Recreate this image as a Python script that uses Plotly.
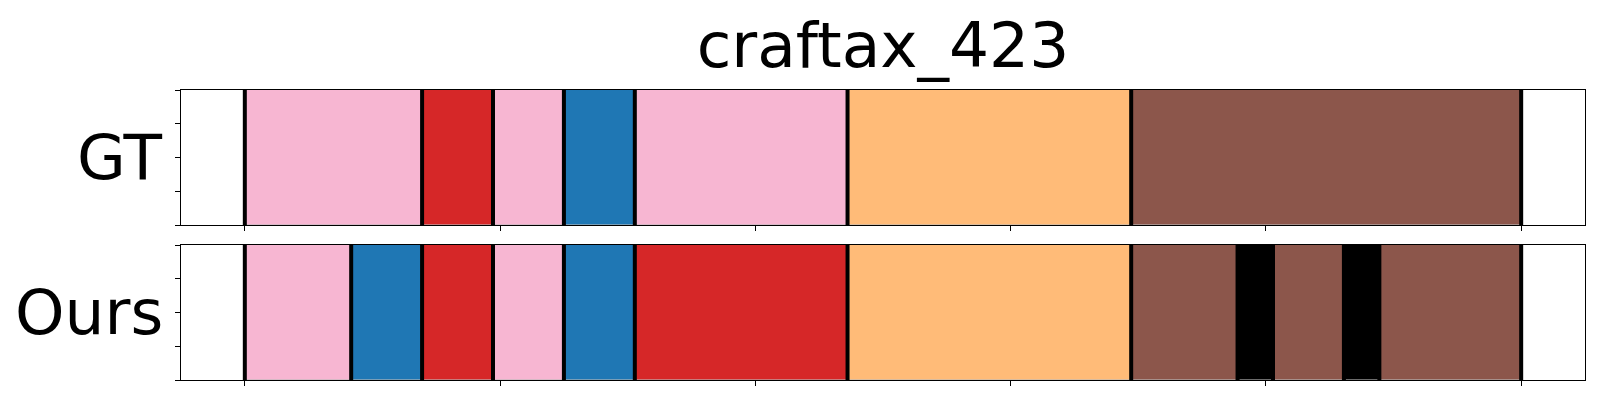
import plotly.graph_objects as go

# ---- data ----
title_text = "craftax_423"
row_names = ["GT", "Ours"]
total_steps = 36

palette = {
    "pink": "#f7b6d2",
    "red": "#d62728",
    "blue": "#1f77b4",
    "orange": "#ffbb78",
    "brown": "#8c564b",
    "black": "#000000",
}

gt_labels = ["pink", "red", "pink", "blue", "pink", "orange", "brown"]
gt_lengths = [5, 2, 2, 2, 6, 8, 11]

ours_labels = ["pink", "blue", "red", "pink", "blue", "red", "orange",
               "brown", "black", "brown", "black", "brown"]
ours_lengths = [3, 2, 2, 2, 2, 6, 8, 3, 1, 2, 1, 4]

x_ticks = [0, 0.2, 0.4, 0.6, 0.8, 1.0]
y_ticks = [0, 0.25, 0.5, 0.75, 1.0]

# ---- figure ----
# page body has an 8px default margin; work in screen coords, then shift
OFF = 8
W, H = 1600, 400
SL, SR, ST, SB = 181, 1585, 90, 380   # target plot area in screen px
ML, MT = SL - OFF, ST - OFF
MR = W - (SR - OFF)
MB = H - (SB - OFF)
plot_h = H - MT - MB
plot_w = W - ML - MR

def py2paper(py):  # py in screen coords
    return (SB - py) / plot_h

def px2paper(px):
    return (px - SL) / plot_w

fig = go.Figure()

rows = [(gt_labels, gt_lengths), (ours_labels, ours_lengths)]
for i, (labels, lengths) in enumerate(rows):
    xa = "x" if i == 0 else "x2"
    ya = "y" if i == 0 else "y2"
    starts = []
    s = 0
    for L in lengths:
        starts.append(s / total_steps)
        s += L
    widths = [L / total_steps for L in lengths]
    fig.add_trace(go.Bar(
        orientation="h",
        y=[0.5] * len(lengths),
        x=widths,
        base=starts,
        width=1.0,
        marker=dict(color=[palette[c] for c in labels],
                    line=dict(color="rgba(0,0,0,0.15)", width=1)),
        xaxis=xa, yaxis=ya, showlegend=False, hoverinfo="skip",
    ))
    bounds = starts + [1.0]
    lx, ly = [], []
    for b in bounds:
        lx += [b, b, None]
        ly += [0, 1, None]
    fig.add_trace(go.Scatter(
        x=lx, y=ly, mode="lines",
        line=dict(color="black", width=4),
        xaxis=xa, yaxis=ya, showlegend=False, hoverinfo="skip",
    ))

top_dom = [py2paper(225), py2paper(90)]
bot_dom = [py2paper(380), py2paper(245)]

axis_common = dict(showline=True, linecolor="black", linewidth=1, mirror=True,
                   ticks="outside", ticklen=5, tickwidth=1, tickcolor="black",
                   showticklabels=False, showgrid=False, zeroline=False)

fig.update_layout(
    width=W, height=H,
    margin=dict(l=ML, r=MR, t=MT, b=MB),
    plot_bgcolor="white", paper_bgcolor="white",
    barmode="overlay", bargap=0,
    font=dict(family="DejaVu Sans", color="black"),
    title=dict(text=title_text, x=((SL + SR) / 2 - OFF) / W, xanchor="center",
               y=1 - (45 - OFF) / H, yanchor="middle", yref="container",
               font=dict(size=63, family="DejaVu Sans", color="black")),
    xaxis=dict(domain=[0, 1], range=[-0.05, 1.05], tickvals=x_ticks,
               anchor="y", **axis_common),
    yaxis=dict(domain=top_dom, range=[0, 1], tickvals=y_ticks,
               anchor="x", **axis_common),
    xaxis2=dict(domain=[0, 1], range=[-0.05, 1.05], tickvals=x_ticks,
                anchor="y2", **axis_common),
    yaxis2=dict(domain=bot_dom, range=[0, 1], tickvals=y_ticks,
                anchor="x2", **axis_common),
)

centers = [(90 + 225) / 2, (245 + 380) / 2]
for name, cy in zip(row_names, centers):
    fig.add_annotation(
        text=name, xref="paper", yref="paper",
        x=px2paper(165), y=py2paper(cy),
        xanchor="right", yanchor="middle", showarrow=False,
        font=dict(size=63, family="DejaVu Sans", color="black"),
    )

fig.write_html("out.html")
